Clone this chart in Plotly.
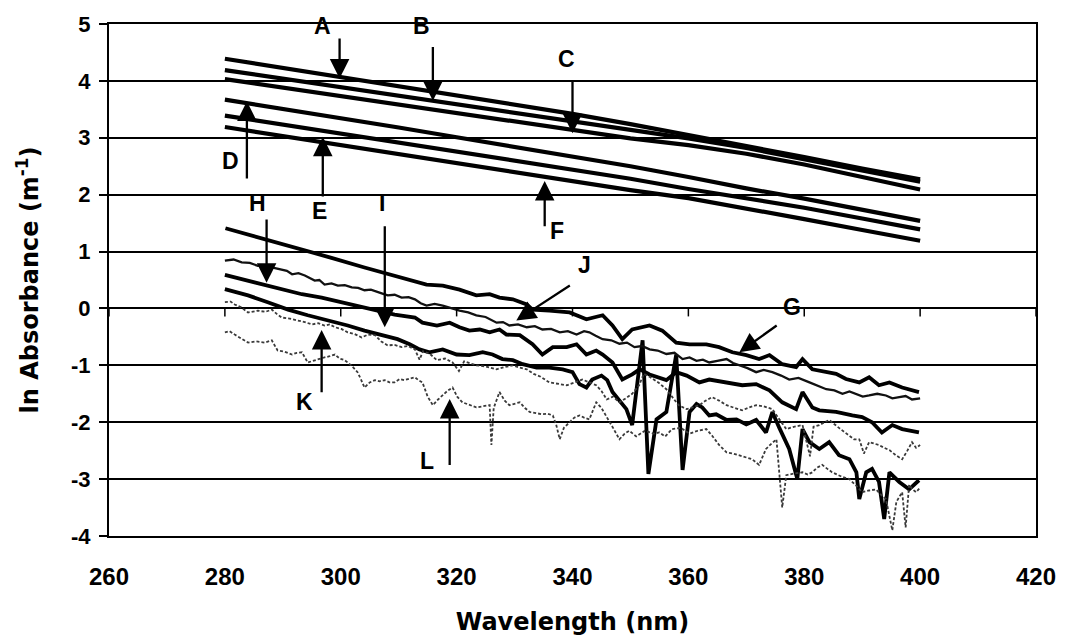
import plotly.graph_objects as go

# ---------------- data: ln absorbance (m^-1) vs wavelength (nm) ----------------
# upper group (nearly straight spectra), sampled every 10 nm
WL_UPPER = [280, 290, 300, 310, 320, 330, 340, 350, 360, 370, 380, 390, 400]
A_VALS = [4.39, 4.23, 4.07, 3.90, 3.74, 3.58, 3.42, 3.24, 3.05, 2.86, 2.66, 2.46, 2.27]
B_VALS = [4.19, 4.04, 3.89, 3.74, 3.59, 3.44, 3.28, 3.13, 2.99, 2.82, 2.62, 2.43, 2.23]
C_VALS = [4.03, 3.88, 3.73, 3.58, 3.43, 3.28, 3.13, 2.99, 2.87, 2.72, 2.53, 2.31, 2.09]
D_VALS = [3.67, 3.51, 3.34, 3.18, 3.01, 2.84, 2.67, 2.50, 2.31, 2.11, 1.93, 1.74, 1.54]
E_VALS = [3.39, 3.23, 3.07, 2.92, 2.76, 2.60, 2.44, 2.28, 2.10, 1.94, 1.77, 1.58, 1.39]
F_VALS = [3.19, 3.03, 2.87, 2.71, 2.55, 2.40, 2.24, 2.08, 1.94, 1.76, 1.57, 1.38, 1.19]

# lower group (noisy spectra)
G_WL = [280.1, 286.9, 293.8, 298.4, 304.1, 309.3, 312.8, 314.8, 317.6, 320.5, 323.4, 325.7,
        327.4, 329.7, 332.1, 333.1, 336.0, 339.5, 342.4, 345.2, 346.9, 348.6, 350.3, 353.3,
        355.5, 357.9, 360.2, 363.1, 365.3, 367.6, 370.0, 372.2, 374.0, 376.2, 378.6, 379.7,
        381.4, 385.5, 387.2, 389.5, 391.2, 392.9, 394.7, 396.9, 399.8]
G_VALS = [1.41, 1.22, 1.02, 0.89, 0.72, 0.58, 0.49, 0.42, 0.40, 0.33, 0.23, 0.25,
          0.19, 0.16, 0.07, -0.02, -0.04, -0.07, -0.19, -0.12, -0.30, -0.54, -0.37, -0.30,
          -0.39, -0.60, -0.63, -0.63, -0.68, -0.77, -0.82, -0.89, -0.82, -0.98, -1.03, -0.89,
          -1.07, -1.15, -1.24, -1.30, -1.21, -1.35, -1.30, -1.39, -1.47]

H_WL = [280.0, 284.0, 287.4, 290.3, 293.3, 296.7, 300.2, 302.9, 305.9, 309.3, 312.8, 314.1,
        316.6, 318.8, 320.5, 322.2, 324.0, 325.7, 327.4, 328.6, 330.9, 333.1, 334.8, 336.6,
        339.0, 340.7, 342.4, 344.1, 345.2, 346.9, 348.6, 350.3, 351.6, 353.3, 356.2, 357.9,
        359.7, 361.9, 363.6, 366.6, 369.3, 371.7, 374.0, 376.2, 378.6, 379.7, 381.4, 382.6,
        385.5, 388.3, 390.0, 391.7, 393.4, 395.2, 396.9, 399.8]
H_VALS = [0.59, 0.49, 0.40, 0.33, 0.25, 0.19, 0.11, 0.05, -0.02, -0.11, -0.16, -0.25,
          -0.30, -0.25, -0.33, -0.39, -0.37, -0.42, -0.37, -0.46, -0.47, -0.63, -0.81, -0.68,
          -0.68, -0.63, -0.81, -0.74, -0.81, -0.95, -1.25, -1.16, -1.07, -1.16, -1.26, -1.12,
          -1.18, -1.30, -1.25, -1.30, -1.35, -1.33, -1.44, -1.65, -1.77, -1.47, -1.74, -1.79,
          -1.82, -1.88, -1.91, -2.00, -2.18, -2.05, -2.12, -2.18]

I_WL = [280.0, 284.0, 287.4, 290.9, 294.3, 297.8, 301.2, 304.1, 307.1, 309.8, 311.9, 313.6,
        315.3, 317.6, 320.0, 322.2, 324.5, 326.2, 327.9, 329.7, 331.4, 333.8, 336.0, 338.3,
        340.0, 341.2, 342.4, 343.4, 345.0, 346.0, 346.9, 349.3, 350.3, 352.1, 353.1, 354.5,
        356.2, 357.9, 359.0, 360.2, 361.4, 362.4, 363.6, 364.8, 366.6, 368.3, 370.0, 371.7,
        373.4, 374.5, 375.7, 377.4, 378.8, 379.7, 380.9, 382.6, 384.3, 386.0, 387.8, 389.0,
        389.5, 390.7, 391.7, 392.9, 393.8, 394.7, 396.4, 398.1, 399.8]
I_VALS = [0.34, 0.23, 0.11, -0.02, -0.12, -0.21, -0.30, -0.39, -0.46, -0.54, -0.63, -0.72,
          -0.77, -0.72, -0.81, -0.82, -0.77, -0.81, -0.89, -0.91, -0.98, -1.04, -1.04, -1.07,
          -1.12, -1.33, -1.39, -1.25, -1.18, -1.26, -1.47, -1.77, -2.05, -0.56, -2.91, -1.95,
          -1.82, -0.81, -2.84, -1.82, -1.68, -1.74, -1.88, -1.86, -1.96, -1.95, -2.04, -1.96,
          -2.18, -1.82, -2.10, -2.47, -3.00, -2.12, -2.35, -2.47, -2.35, -2.58, -2.65, -2.88,
          -3.35, -2.88, -2.82, -3.05, -3.70, -2.88, -3.05, -3.18, -3.02]

J_WL = [280.0, 281.5, 282.9, 284.3, 285.7, 287.0, 288.1, 289.8, 290.7, 291.6, 292.7, 293.8,
        295.5, 296.3, 297.2, 298.4, 299.5, 300.7, 301.9, 303.0, 304.1, 305.2, 306.4, 307.2,
        308.1, 309.3, 310.5, 311.7, 312.8, 313.8, 314.8, 316.2, 317.6, 319.0, 320.5, 322.0,
        323.4, 325.0, 326.9, 328.0, 329.1, 330.6, 332.1, 333.5, 334.8, 336.3, 337.8, 339.2,
        340.7, 342.0, 342.9, 344.0, 345.2, 346.7, 348.1, 349.4, 350.7, 352.0, 353.3, 354.7,
        356.2, 357.6, 359.0, 360.2, 361.4, 362.5, 363.6, 365.0, 366.6, 367.7, 368.8, 370.2,
        371.7, 373.0, 374.5, 376.0, 377.4, 379.0, 380.9, 382.3, 383.8, 385.2, 386.6, 387.8,
        389.0, 390.1, 391.2, 392.6, 394.1, 395.2, 396.4, 397.5, 398.6, 400.0]
J_VALS = [0.84, 0.86, 0.81, 0.80, 0.75, 0.76, 0.72, 0.68, 0.66, 0.60, 0.62, 0.58,
          0.49, 0.50, 0.42, 0.44, 0.40, 0.41, 0.37, 0.36, 0.32, 0.33, 0.28, 0.26,
          0.23, 0.24, 0.19, 0.20, 0.16, 0.09, 0.05, 0.08, 0.05, 0.00, -0.04, -0.07,
          -0.12, -0.15, -0.25, -0.24, -0.30, -0.28, -0.33, -0.31, -0.37, -0.36, -0.42, -0.40,
          -0.46, -0.40, -0.42, -0.48, -0.54, -0.56, -0.62, -0.60, -0.68, -0.66, -0.72, -0.74,
          -0.80, -0.78, -0.89, -0.86, -0.92, -0.90, -0.95, -0.92, -0.89, -0.96, -1.00, -1.05,
          -1.12, -1.08, -1.12, -1.18, -1.25, -1.22, -1.30, -1.36, -1.42, -1.44, -1.50, -1.46,
          -1.50, -1.55, -1.53, -1.50, -1.53, -1.58, -1.56, -1.54, -1.60, -1.58]

K_WL = [280.0, 281.0, 281.7, 282.8, 284.0, 285.0, 285.7, 287.0, 288.1, 289.0, 289.8, 291.2,
        292.6, 293.8, 295.0, 296.1, 297.2, 298.1, 299.0, 300.1, 301.2, 302.4, 303.6, 304.7,
        305.9, 307.0, 308.1, 309.3, 310.5, 311.6, 312.8, 313.6, 314.2, 315.4, 316.6, 318.0,
        319.3, 320.4, 321.3, 323.4, 325.0, 326.9, 328.3, 329.7, 330.9, 332.1, 333.3, 334.5,
        336.0, 337.5, 339.0, 340.4, 341.7, 342.9, 344.1, 345.0, 345.9, 347.0, 348.1, 349.2,
        350.3, 351.5, 352.3, 353.3, 354.8, 356.2, 357.2, 358.3, 359.7, 360.8, 361.9, 363.0,
        364.1, 365.3, 366.6, 368.0, 369.3, 370.5, 371.7, 373.0, 374.5, 375.7, 376.9, 378.2,
        379.7, 381.0, 381.6, 382.6, 383.5, 384.3, 386.0, 387.8, 388.6, 389.5, 390.3, 391.2,
        392.0, 392.9, 393.8, 394.7, 395.8, 396.9, 397.8, 398.6, 399.3, 400.0]
K_VALS = [0.11, 0.12, 0.07, 0.02, -0.07, -0.05, -0.04, -0.06, -0.02, -0.10, -0.16, -0.18,
          -0.21, -0.24, -0.28, -0.26, -0.30, -0.28, -0.33, -0.36, -0.42, -0.45, -0.51, -0.46,
          -0.47, -0.58, -0.65, -0.64, -0.68, -0.66, -0.72, -0.90, -0.75, -0.80, -0.91, -0.88,
          -0.95, -1.10, -0.93, -1.00, -1.02, -1.07, -1.03, -1.00, -1.04, -1.07, -1.15, -1.20,
          -1.30, -1.32, -1.35, -1.30, -1.25, -1.30, -1.35, -1.45, -1.60, -1.55, -1.65, -1.58,
          -1.50, -1.35, -1.15, -1.20, -1.30, -1.42, -1.55, -1.70, -1.77, -1.74, -1.70, -1.62,
          -1.56, -1.62, -1.70, -1.75, -1.79, -1.74, -1.70, -1.72, -1.77, -1.95, -2.12, -2.08,
          -2.05, -2.60, -2.08, -2.05, -2.00, -1.96, -2.10, -2.23, -2.30, -2.30, -2.55, -2.35,
          -2.38, -2.40, -2.45, -2.49, -2.58, -2.65, -2.50, -2.35, -2.45, -2.40]

L_WL = [280.0, 280.8, 281.7, 282.8, 284.0, 285.4, 286.9, 288.1, 289.1, 290.3, 291.6, 292.4,
        293.3, 294.3, 295.7, 297.2, 298.1, 299.0, 299.8, 300.7, 301.8, 302.9, 303.5, 304.1,
        305.0, 305.9, 306.7, 307.6, 308.4, 309.3, 310.2, 311.0, 312.0, 312.8, 313.4, 314.1,
        315.0, 315.9, 316.8, 317.6, 318.4, 319.3, 320.1, 321.0, 322.2, 323.4, 324.5, 325.7,
        326.0, 326.4, 327.4, 328.3, 329.1, 330.0, 330.9, 331.8, 332.6, 333.7, 334.8, 335.7,
        336.6, 337.2, 337.8, 338.5, 339.5, 340.3, 341.2, 342.0, 342.9, 343.5, 344.1, 345.0,
        345.9, 347.0, 348.1, 349.0, 349.8, 351.0, 352.5, 354.0, 355.0, 356.0, 357.2, 358.7,
        360.2, 361.6, 363.1, 364.2, 365.3, 366.6, 367.7, 368.8, 370.0, 371.0, 372.2, 373.4,
        374.3, 375.2, 376.2, 376.9, 378.3, 379.7, 380.6, 381.4, 382.2, 383.1, 384.0, 384.8,
        386.3, 387.8, 389.0, 390.0, 391.2, 392.4, 393.3, 394.1, 395.2, 395.9, 396.9, 397.5,
        398.1, 398.7, 399.3, 400.0]
L_VALS = [-0.42, -0.40, -0.46, -0.52, -0.60, -0.58, -0.60, -0.56, -0.74, -0.76, -0.81, -0.78,
          -0.77, -0.95, -0.90, -0.86, -0.84, -0.81, -0.88, -0.91, -1.00, -1.12, -1.25, -1.39,
          -1.30, -1.26, -1.28, -1.26, -1.30, -1.30, -1.24, -1.26, -1.23, -1.21, -1.26, -1.30,
          -1.55, -1.70, -1.60, -1.53, -1.45, -1.39, -1.55, -1.65, -1.70, -1.74, -1.72, -1.70,
          -2.40, -1.75, -1.47, -1.62, -1.70, -1.68, -1.65, -1.75, -1.82, -1.84, -1.86, -1.85,
          -1.88, -2.05, -2.30, -2.10, -2.00, -1.92, -1.88, -1.92, -1.95, -1.80, -1.65, -1.75,
          -1.90, -2.10, -2.30, -2.20, -2.15, -2.25, -2.15, -2.20, -2.18, -2.25, -2.12, -2.10,
          -2.20, -2.15, -2.12, -2.25, -2.40, -2.53, -2.55, -2.58, -2.62, -2.65, -2.75, -2.47,
          -2.38, -2.30, -3.50, -2.93, -2.90, -2.88, -2.92, -2.88, -2.80, -2.75, -2.82, -2.88,
          -2.95, -3.00, -3.12, -3.23, -3.20, -3.18, -3.28, -3.35, -3.90, -3.40, -3.23, -3.85,
          -3.10, -3.18, -3.23, -3.15]

X_TICKS = [260, 280, 300, 320, 340, 360, 380, 400, 420]
Y_TICKS = [-4, -3, -2, -1, 0, 1, 2, 3, 4, 5]
Y_TICK_TEXT = ["-4", "-3", "-2", "-1", "0", "1", "2", "3", "4", "5"]

# letter labels: (text, label x, label y, arrow tail x, tail y, arrow tip x, tip y)
LABELS = [
    ("A", 296.9, 4.97, 299.8, 4.77, 299.8, 4.04),
    ("B", 314.0, 4.97, 315.9, 4.62, 315.9, 3.65),
    ("C", 339.0, 4.39, 340.0, 4.04, 340.0, 3.08),
    ("D", 281.0, 2.59, 283.8, 2.26, 283.8, 3.64),
    ("E", 296.4, 1.71, 296.9, 1.94, 296.9, 3.02),
    ("F", 337.4, 1.36, 335.2, 1.42, 335.2, 2.24),
    ("H", 285.7, 1.85, 287.2, 1.59, 287.2, 0.45),
    ("I", 307.2, 1.85, 307.6, 1.47, 307.6, -0.33),
    ("J", 342.1, 0.77, 339.8, 0.42, 330.3, -0.21),
    ("G", 377.8, 0.02, 375.5, -0.28, 368.8, -0.77),
    ("K", 293.8, -1.64, 296.7, -1.50, 296.7, -0.38),
    ("L", 314.8, -2.69, 318.8, -2.78, 318.8, -1.59),
]

fig = go.Figure()

for name, vals in [("A", A_VALS), ("B", B_VALS), ("C", C_VALS),
                   ("D", D_VALS), ("E", E_VALS), ("F", F_VALS)]:
    fig.add_trace(go.Scatter(x=WL_UPPER, y=vals, mode="lines", name=name,
                             line=dict(color="black", width=4.2)))

for name, wl, vals in [("G", G_WL, G_VALS), ("H", H_WL, H_VALS), ("I", I_WL, I_VALS)]:
    fig.add_trace(go.Scatter(x=wl, y=vals, mode="lines", name=name,
                             line=dict(color="black", width=3.8)))

fig.add_trace(go.Scatter(x=J_WL, y=J_VALS, mode="lines", name="J",
                         line=dict(color="#111111", width=2.3)))
for name, wl, vals in [("K", K_WL, K_VALS), ("L", L_WL, L_VALS)]:
    fig.add_trace(go.Scatter(x=wl, y=vals, mode="lines", name=name,
                             line=dict(color="#3a3a3a", width=1.8, dash="3px,2px")))

# small category ticks on the zero line
for t in X_TICKS:
    fig.add_shape(type="line", xref="x", yref="y", x0=t, x1=t, y0=0, y1=-0.14,
                  line=dict(color="black", width=1.5))

for text, lx, ly, tx, ty, hx, hy in LABELS:
    fig.add_annotation(x=lx, y=ly, xref="x", yref="y", text=text, showarrow=False,
                       font=dict(family="Liberation Sans", size=23, color="black",
                                 weight="bold"))
    fig.add_annotation(x=hx, y=hy, xref="x", yref="y", ax=tx, ay=ty, axref="x", ayref="y",
                       text="", showarrow=True, arrowhead=2, arrowsize=1.7,
                       arrowwidth=2.3, arrowcolor="black", standoff=0)

fig.update_layout(
    width=1068, height=644,
    margin=dict(l=109, r=31, t=21, b=108),
    paper_bgcolor="white", plot_bgcolor="white",
    showlegend=False,
)
fig.update_xaxes(
    range=[260, 420], tickvals=X_TICKS, ticks="", showgrid=False,
    showline=True, linecolor="black", linewidth=2, mirror=True,
    ticklabelstandoff=18,
    tickfont=dict(family="Liberation Sans", size=24, color="black", weight="bold"),
    title=dict(text="Wavelength (nm)", standoff=24,
               font=dict(family="DejaVu Sans", size=24, color="black", weight="bold")),
    zeroline=False,
)
fig.update_yaxes(
    range=[-4, 5], tickvals=Y_TICKS, ticktext=Y_TICK_TEXT, ticks="outside", ticklen=8,
    tickwidth=2, tickcolor="black", showgrid=True, gridcolor="black", gridwidth=2,
    showline=True, linecolor="black", linewidth=2, mirror=True,
    ticklabelstandoff=4,
    tickfont=dict(family="Liberation Sans", size=22, color="black", weight="bold"),
    title=dict(text="ln Absorbance (m<sup>-1</sup>)", standoff=26,
               font=dict(family="DejaVu Sans", size=24, color="black", weight="bold")),
    zeroline=False,
)

fig.write_html("out.html")
